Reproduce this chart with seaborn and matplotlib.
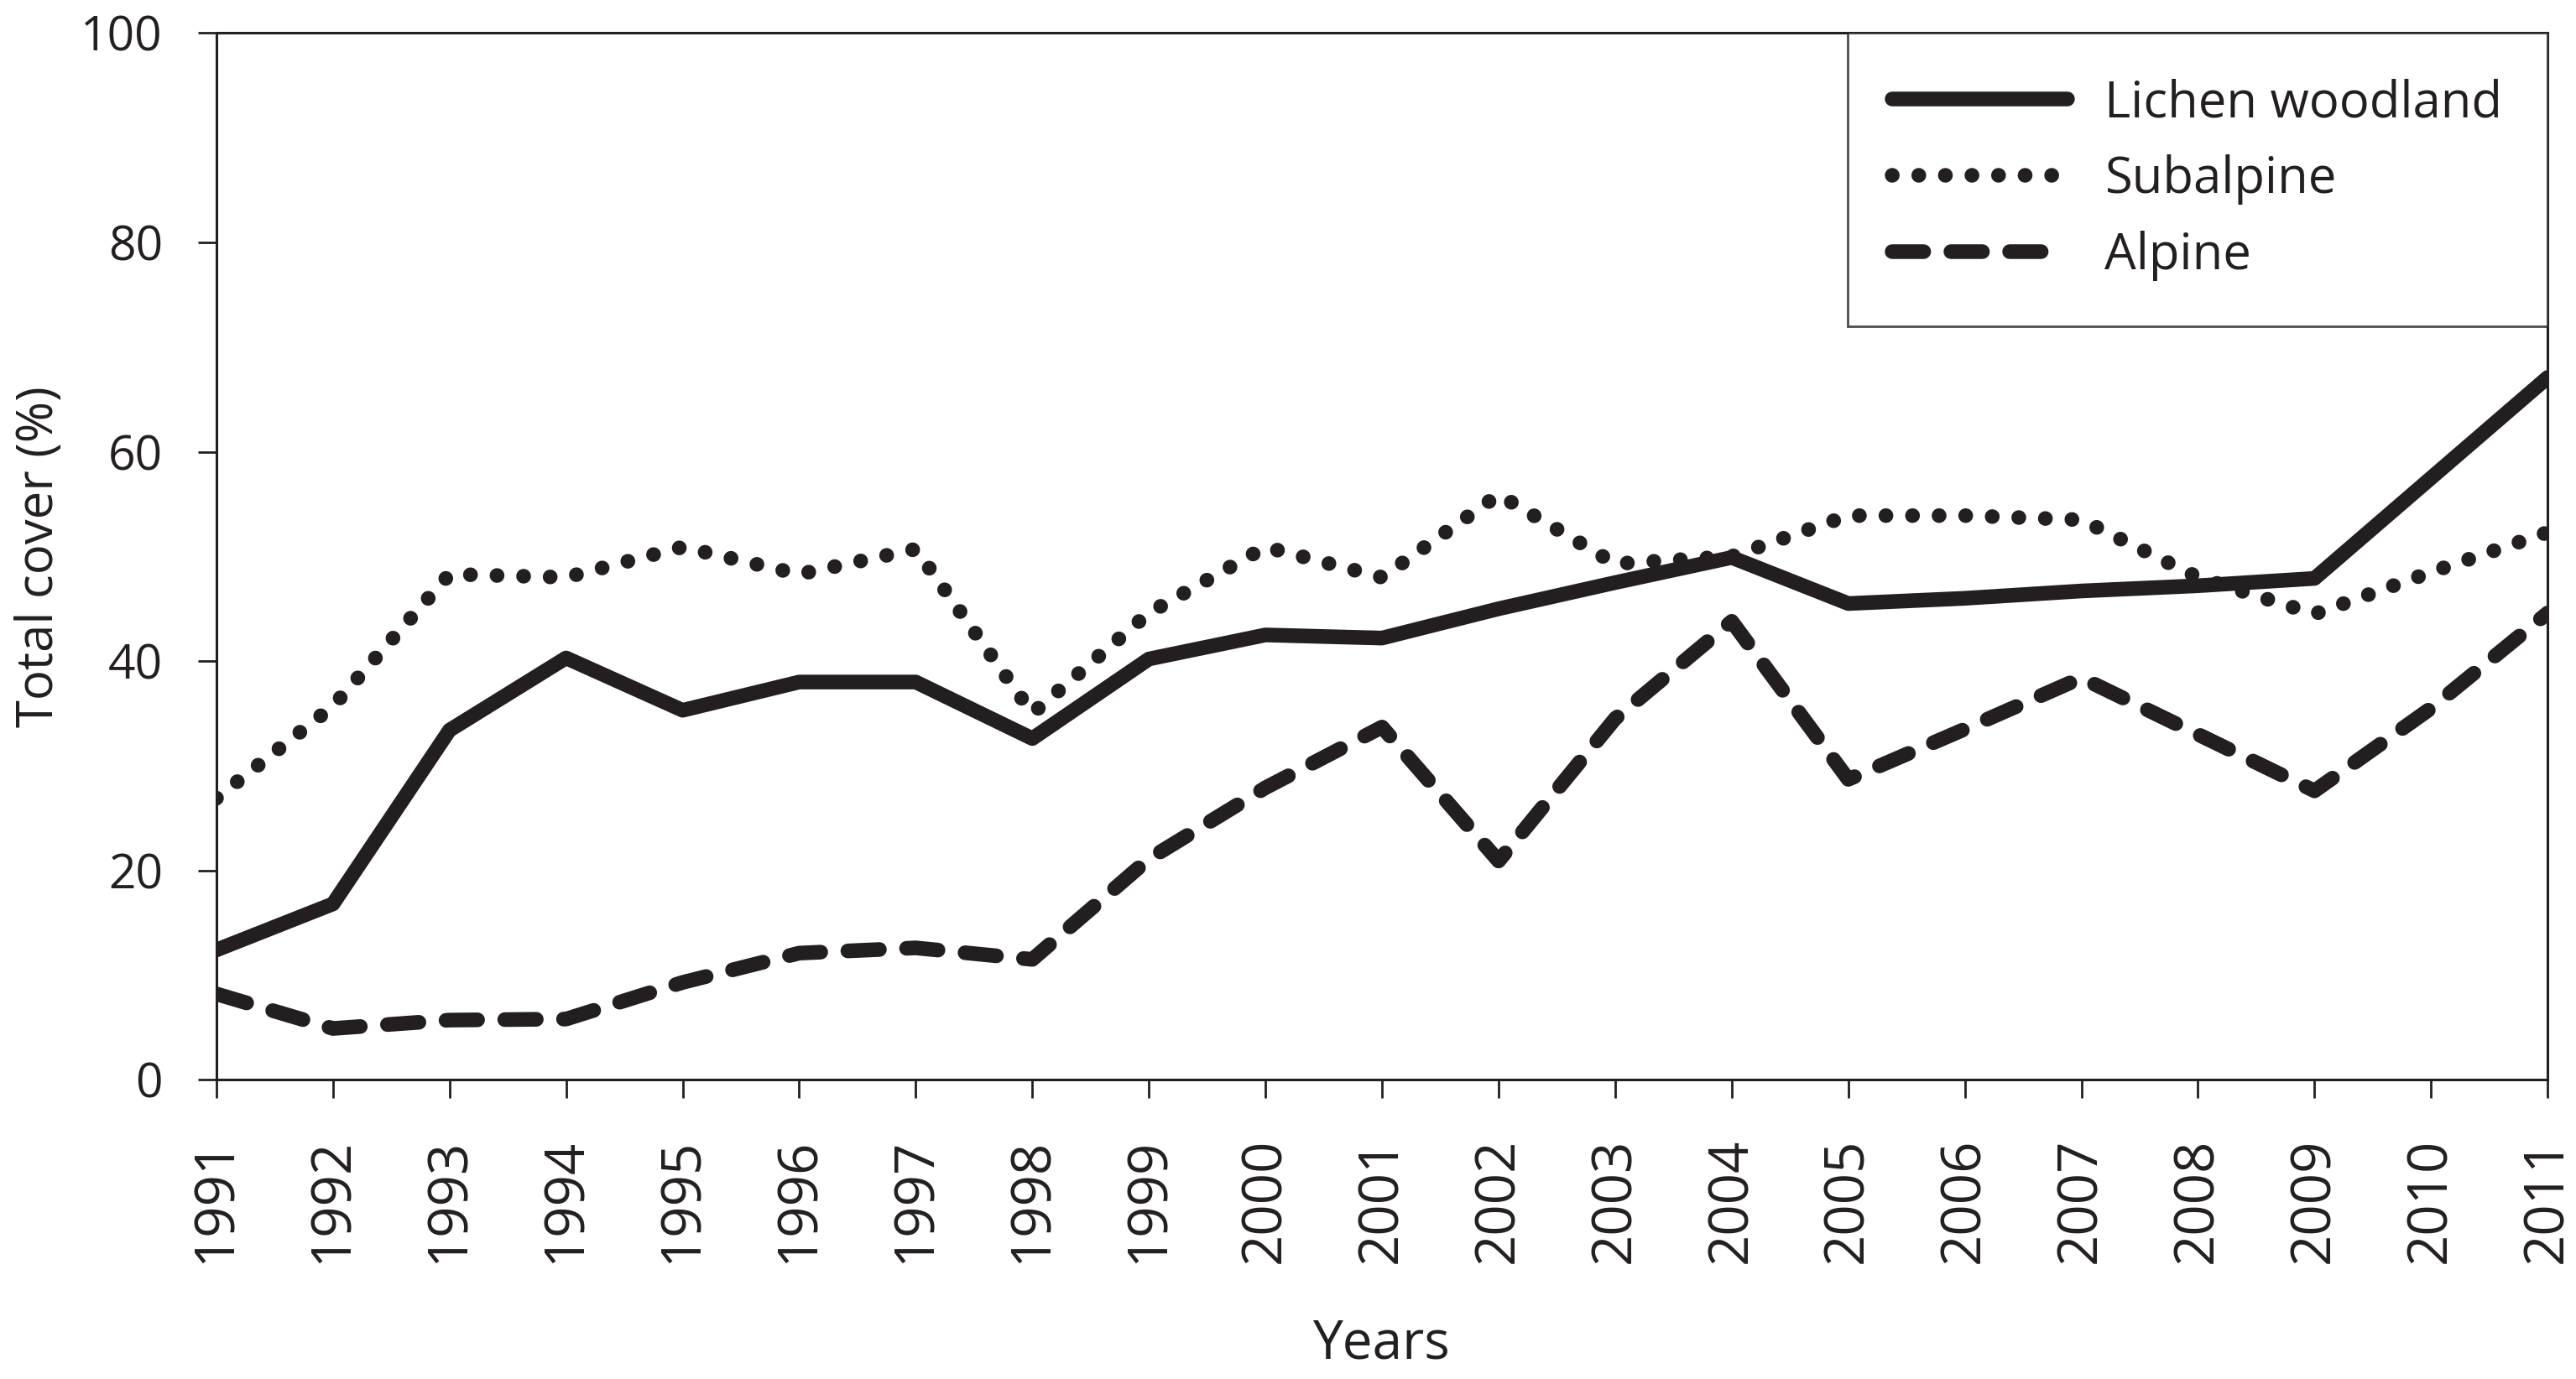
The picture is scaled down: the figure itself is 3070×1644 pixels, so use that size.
import pandas as pd
import matplotlib.pyplot as plt
import seaborn as sns

years = list(range(1991, 2012))

lichen_woodland = [12.4, 16.8, 33.4, 40.3, 35.3, 38.0, 38.0, 32.6, 40.2, 42.5, 42.2,
                   45.0, 47.5, 49.9, 45.5, 46.0, 46.7, 47.2, 47.9, 57.5, 67.1]
subalpine = [26.9, 35.7, 48.3, 48.0, 50.9, 48.3, 50.7, 35.0, 44.6, 50.9, 48.0,
             55.9, 49.3, 50.0, 53.9, 53.9, 53.5, 48.0, 44.5, 48.5, 52.3]
alpine = [8.2, 4.9, 5.7, 5.8, 9.3, 12.1, 12.6, 11.5, 21.1, 27.9, 33.7,
          20.9, 34.5, 43.8, 28.7, 33.5, 38.4, 33.0, 27.6, 35.5, 44.6]

ink = '#231f20'

sns.set_style("ticks")
plt.rcParams['font.family'] = ['Open Sans', 'DejaVu Sans']

fig, ax = plt.subplots(figsize=(15.35, 8.22), dpi=200)
fig.subplots_adjust(left=0.084, right=0.989, top=0.976, bottom=0.217)

lw = 6.3
sns.lineplot(x=years, y=lichen_woodland, ax=ax, color=ink, linewidth=lw,
             label='Lichen woodland', solid_capstyle='round')
sns.lineplot(x=years, y=subalpine, ax=ax, color=ink, linewidth=lw,
             label='Subalpine', linestyle=(0, (0.01, 1.8)), dash_capstyle='round')
sns.lineplot(x=years, y=alpine, ax=ax, color=ink, linewidth=lw,
             label='Alpine', linestyle=(0, (2.15, 1.85)), dash_capstyle='round')

ax.set_xlim(1991, 2011)
ax.set_ylim(0, 100)
ax.set_xticks(years)
ax.set_xticklabels([str(y) for y in years], rotation=90)
ax.set_yticks([0, 20, 40, 60, 80, 100])

for side in ['top', 'right', 'left', 'bottom']:
    ax.spines[side].set_visible(True)
    ax.spines[side].set_color(ink)
    ax.spines[side].set_linewidth(1.1)

ax.tick_params(axis='both', colors=ink, labelcolor=ink,
               length=8, width=1.0, direction='out')
ax.tick_params(axis='x', pad=17, labelsize=23.5)
ax.tick_params(axis='y', pad=15, labelsize=20.5)

ax.set_xlabel('Years', fontsize=23, color=ink, labelpad=23)
ax.set_ylabel('Total cover (%)', fontsize=21.5, color=ink, labelpad=7)

leg = ax.legend(loc='upper right', frameon=True, fancybox=False, borderaxespad=0,
                handlelength=3.5, handletextpad=0.74, labelspacing=0.52,
                borderpad=0.9, fontsize=21.5)
leg.get_frame().set_edgecolor(ink)
leg.get_frame().set_linewidth(1.0)
for t in leg.get_texts():
    t.set_color(ink)

plt.savefig('out.png', dpi=200)
